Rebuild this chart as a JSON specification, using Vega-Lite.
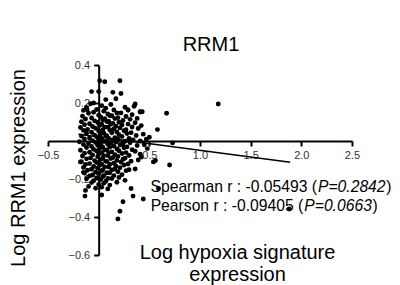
{
  "$schema": "https://vega.github.io/schema/vega-lite/v6.json",
  "width": 304,
  "height": 190,
  "autosize": {"type": "none"},
  "padding": {"left": 48, "top": 65, "right": 48, "bottom": 30},
  "background": "white",
  "config": {"view": {"stroke": null}, "font": "Liberation Sans"},
  "title": {"text": "RRM1", "fontSize": 20, "font": "Liberation Sans", "fontWeight": "normal", "color": "black", "anchor": "middle", "dx": 11, "dy": 24, "offset": 12, "baseline": "alphabetic"},
  "datasets": {
    "pts": [
      {"x":-0.08,"y":0.196},{"x":0.03,"y":0.186},{"x":0.12,"y":0.192},{"x":0.35,"y":0.183},
      {"x":-0.12,"y":0.176},{"x":-0.02,"y":0.166},{"x":0.07,"y":0.172},{"x":0.15,"y":0.163},{"x":0.26,"y":0.178},
      {"x":-0.15,"y":0.161},{"x":-0.05,"y":0.151},{"x":0.05,"y":0.157},{"x":0.18,"y":0.148},{"x":0.29,"y":0.163},{"x":0.41,"y":0.153},
      {"x":-0.1,"y":0.146},{"x":0.0,"y":0.136},{"x":0.09,"y":0.142},{"x":0.13,"y":0.133},{"x":0.22,"y":0.148},{"x":0.33,"y":0.138},
      {"x":-0.16,"y":0.131},{"x":-0.07,"y":0.121},{"x":0.02,"y":0.127},{"x":0.06,"y":0.118},{"x":0.11,"y":0.133},{"x":0.19,"y":0.123},{"x":0.27,"y":0.129},{"x":0.38,"y":0.119},
      {"x":-0.13,"y":0.116},{"x":-0.04,"y":0.106},{"x":0.04,"y":0.112},{"x":0.1,"y":0.103},{"x":0.16,"y":0.118},{"x":0.24,"y":0.108},{"x":0.31,"y":0.114},
      {"x":-0.17,"y":0.101},{"x":-0.09,"y":0.091},{"x":-0.01,"y":0.097},{"x":0.03,"y":0.088},{"x":0.08,"y":0.103},{"x":0.14,"y":0.093},{"x":0.2,"y":0.099},{"x":0.29,"y":0.089},{"x":0.36,"y":0.096},
      {"x":-0.14,"y":0.086},{"x":-0.06,"y":0.076},{"x":0.01,"y":0.082},{"x":0.06,"y":0.073},{"x":0.12,"y":0.088},{"x":0.17,"y":0.078},{"x":0.23,"y":0.084},{"x":0.33,"y":0.074},{"x":0.42,"y":0.081},
      {"x":-0.18,"y":0.071},{"x":-0.11,"y":0.061},{"x":-0.03,"y":0.067},{"x":0.04,"y":0.058},{"x":0.09,"y":0.073},{"x":0.15,"y":0.063},{"x":0.21,"y":0.069},{"x":0.27,"y":0.059},{"x":0.39,"y":0.066},
      {"x":-0.15,"y":0.056},{"x":-0.07,"y":0.046},{"x":0.0,"y":0.052},{"x":0.05,"y":0.043},{"x":0.11,"y":0.058},{"x":0.18,"y":0.048},{"x":0.25,"y":0.054},{"x":0.32,"y":0.044},
      {"x":-0.12,"y":0.041},{"x":-0.04,"y":0.031},{"x":0.02,"y":0.037},{"x":0.07,"y":0.028},{"x":0.13,"y":0.043},{"x":0.2,"y":0.033},{"x":0.28,"y":0.039},{"x":0.37,"y":0.029},{"x":0.44,"y":0.036},
      {"x":-0.17,"y":0.026},{"x":-0.09,"y":0.016},{"x":-0.02,"y":0.022},{"x":0.03,"y":0.013},{"x":0.08,"y":0.028},{"x":0.16,"y":0.018},{"x":0.23,"y":0.024},{"x":0.3,"y":0.014},
      {"x":-0.14,"y":0.011},{"x":-0.06,"y":0.001},{"x":0.0,"y":0.007},{"x":0.05,"y":-0.002},{"x":0.1,"y":0.013},{"x":0.14,"y":0.003},{"x":0.19,"y":0.009},{"x":0.26,"y":-0.001},{"x":0.34,"y":0.006},{"x":0.41,"y":0.0},
      {"x":-0.19,"y":-0.004},{"x":-0.1,"y":-0.014},{"x":-0.03,"y":-0.008},{"x":0.02,"y":-0.017},{"x":0.07,"y":-0.002},{"x":0.12,"y":-0.012},{"x":0.17,"y":-0.006},{"x":0.24,"y":-0.016},{"x":0.31,"y":-0.009},
      {"x":-0.15,"y":-0.019},{"x":-0.07,"y":-0.029},{"x":-0.01,"y":-0.023},{"x":0.04,"y":-0.032},{"x":0.09,"y":-0.017},{"x":0.15,"y":-0.027},{"x":0.21,"y":-0.021},{"x":0.28,"y":-0.031},{"x":0.38,"y":-0.024},
      {"x":-0.12,"y":-0.034},{"x":-0.05,"y":-0.044},{"x":0.01,"y":-0.038},{"x":0.06,"y":-0.047},{"x":0.11,"y":-0.032},{"x":0.18,"y":-0.042},{"x":0.25,"y":-0.036},{"x":0.33,"y":-0.046},
      {"x":-0.18,"y":-0.049},{"x":-0.09,"y":-0.059},{"x":-0.02,"y":-0.053},{"x":0.03,"y":-0.062},{"x":0.08,"y":-0.047},{"x":0.13,"y":-0.057},{"x":0.2,"y":-0.051},{"x":0.27,"y":-0.061},{"x":0.36,"y":-0.054},
      {"x":-0.14,"y":-0.064},{"x":-0.06,"y":-0.074},{"x":0.0,"y":-0.068},{"x":0.05,"y":-0.077},{"x":0.1,"y":-0.062},{"x":0.16,"y":-0.072},{"x":0.23,"y":-0.066},{"x":0.3,"y":-0.076},
      {"x":-0.16,"y":-0.079},{"x":-0.08,"y":-0.089},{"x":-0.01,"y":-0.083},{"x":0.04,"y":-0.092},{"x":0.09,"y":-0.077},{"x":0.14,"y":-0.087},{"x":0.19,"y":-0.081},{"x":0.26,"y":-0.091},
      {"x":-0.12,"y":-0.094},{"x":-0.04,"y":-0.104},{"x":0.02,"y":-0.098},{"x":0.07,"y":-0.107},{"x":0.12,"y":-0.092},{"x":0.18,"y":-0.102},{"x":0.24,"y":-0.096},{"x":0.32,"y":-0.106},
      {"x":-0.17,"y":-0.109},{"x":-0.09,"y":-0.119},{"x":-0.02,"y":-0.113},{"x":0.03,"y":-0.122},{"x":0.08,"y":-0.107},{"x":0.15,"y":-0.117},{"x":0.22,"y":-0.111},{"x":0.29,"y":-0.121},
      {"x":-0.13,"y":-0.124},{"x":-0.05,"y":-0.134},{"x":0.01,"y":-0.128},{"x":0.06,"y":-0.137},{"x":0.11,"y":-0.122},{"x":0.17,"y":-0.132},{"x":0.25,"y":-0.126},
      {"x":-0.15,"y":-0.139},{"x":-0.07,"y":-0.149},{"x":-0.01,"y":-0.143},{"x":0.04,"y":-0.152},{"x":0.1,"y":-0.137},{"x":0.16,"y":-0.147},{"x":0.21,"y":-0.141},{"x":0.3,"y":-0.151},
      {"x":-0.11,"y":-0.154},{"x":-0.03,"y":-0.164},{"x":0.03,"y":-0.158},{"x":0.08,"y":-0.167},{"x":0.13,"y":-0.152},{"x":0.19,"y":-0.162},{"x":0.27,"y":-0.156},
      {"x":-0.14,"y":-0.169},{"x":-0.06,"y":-0.179},{"x":0.0,"y":-0.173},{"x":0.05,"y":-0.182},{"x":0.11,"y":-0.167},{"x":0.23,"y":-0.177},
      {"x":-0.09,"y":-0.184},{"x":-0.02,"y":-0.194},{"x":0.04,"y":-0.188},{"x":0.09,"y":-0.197},{"x":0.15,"y":-0.182},{"x":0.2,"y":-0.192},
      {"x":-0.12,"y":-0.199},{"x":-0.05,"y":-0.209},{"x":0.02,"y":-0.203},{"x":0.07,"y":-0.212},{"x":0.13,"y":-0.197},{"x":0.26,"y":-0.207},
      {"x":-0.07,"y":-0.219},{"x":0.0,"y":-0.229},{"x":0.05,"y":-0.223},{"x":0.11,"y":-0.232},{"x":0.18,"y":-0.217},
      {"x":-0.1,"y":-0.239},{"x":-0.03,"y":-0.249},{"x":0.03,"y":-0.243},{"x":0.09,"y":-0.252},
      {"x":0.36,"y":0.195},{"x":0.41,"y":0.154},{"x":0.67,"y":0.146},{"x":1.18,"y":0.195},{"x":0.58,"y":0.06},{"x":0.73,"y":-0.01},
      {"x":0.7,"y":-0.126},{"x":0.54,"y":-0.11},{"x":0.56,"y":-0.103},{"x":0.41,"y":-0.07},{"x":0.36,"y":-0.147},{"x":0.59,"y":-0.25},
      {"x":0.44,"y":-0.305},{"x":0.34,"y":-0.29},{"x":0.24,"y":-0.32},{"x":0.21,"y":-0.37},{"x":0.19,"y":-0.41},{"x":0.32,"y":-0.25},
      {"x":0.03,"y":-0.284},{"x":-0.13,"y":-0.26},{"x":-0.135,"y":-0.29},{"x":-0.15,"y":-0.165},{"x":-0.18,"y":-0.11},{"x":1.88,"y":-0.358},
      {"x":0.01,"y":0.317},{"x":0.06,"y":0.312},{"x":0.21,"y":0.317},{"x":-0.07,"y":0.26},{"x":0.0,"y":0.26},{"x":0.14,"y":0.256},
      {"x":0.22,"y":0.25},{"x":0.07,"y":0.218},{"x":0.17,"y":0.222},{"x":-0.05,"y":0.2},{"x":0.29,"y":0.163},{"x":0.43,"y":0.154},{"x":-0.115,"y":0.165},
      {"x":0.47,"y":0.01},{"x":0.45,"y":-0.02},{"x":0.5,"y":0.02},{"x":0.48,"y":-0.04},{"x":0.42,"y":-0.085},{"x":0.39,"y":-0.1}
    ],
    "fit": [{"x": -0.2, "y": 0.0355}, {"x": 1.89, "y": -0.112}],
    "ann": [
      {"x": 2.155, "y": -0.267, "t": "Spearman r : -0.05493 (", "s": "a"},
      {"x": 2.164, "y": -0.267, "t": "P=0.2842", "s": "i"},
      {"x": 2.838, "y": -0.267, "t": ")", "s": "c"},
      {"x": 2.019, "y": -0.368, "t": "Pearson r : -0.09405 (", "s": "a"},
      {"x": 2.029, "y": -0.368, "t": "P=0.0663", "s": "i"},
      {"x": 2.703, "y": -0.368, "t": ")", "s": "c"}
    ]
  },
  "layer": [
    {
      "data": {"name": "pts"},
      "mark": {"type": "circle", "size": 24, "color": "black", "opacity": 1},
      "encoding": {
        "x": {"field": "x", "type": "quantitative",
          "scale": {"domain": [-0.5, 2.5], "nice": false, "zero": false},
          "axis": {"orient": "bottom", "offset": -114, "values": [-0.5, 0.5, 1, 1.5, 2, 2.5], "format": ".1f", "grid": false,
            "domainColor": "black", "domainWidth": 2, "tickColor": "black", "tickWidth": 2, "tickSize": 5,
            "labelFontSize": 11, "labelColor": "#333", "labelPadding": 3, "labelFlush": false, "labelOverlap": false,
            "title": ["Log hypoxia signature", "expression"], "titleFontSize": 20, "titleFontWeight": "normal", "titleColor": "black",
            "titleX": 189, "titleY": 117, "titleAlign": "center", "titleBaseline": "alphabetic", "titleLineHeight": 22}},
        "y": {"field": "y", "type": "quantitative",
          "scale": {"domain": [-0.6, 0.4], "nice": false, "zero": false},
          "axis": {"orient": "left", "offset": -50.67, "values": [-0.6, -0.4, -0.2, 0.2, 0.4], "format": ".1f", "grid": false,
            "domainColor": "black", "domainWidth": 2, "tickColor": "black", "tickWidth": 2, "tickSize": 5,
            "labelFontSize": 11, "labelColor": "#333", "labelPadding": 4, "labelOverlap": false,
            "title": "Log RRM1 expression", "titleFontSize": 20, "titleFontWeight": "normal", "titleColor": "black",
            "titleX": -74, "titleY": 102.5, "titleAngle": -90, "titleAlign": "center", "titleBaseline": "alphabetic"}}
      }
    },
    {
      "data": {"name": "fit"},
      "mark": {"type": "line", "color": "black", "strokeWidth": 1.5},
      "encoding": {"x": {"field": "x", "type": "quantitative"}, "y": {"field": "y", "type": "quantitative"}}
    },
    {
      "data": {"name": "ann"},
      "transform": [{"filter": "datum.s == 'a'"}],
      "mark": {"type": "text", "align": "right", "baseline": "alphabetic", "fontSize": 15.7, "color": "black"},
      "encoding": {"x": {"field": "x", "type": "quantitative"}, "y": {"field": "y", "type": "quantitative"}, "text": {"field": "t"}}
    },
    {
      "data": {"name": "ann"},
      "transform": [{"filter": "datum.s == 'i'"}],
      "mark": {"type": "text", "align": "left", "baseline": "alphabetic", "fontSize": 15.7, "fontStyle": "italic", "color": "black"},
      "encoding": {"x": {"field": "x", "type": "quantitative"}, "y": {"field": "y", "type": "quantitative"}, "text": {"field": "t"}}
    },
    {
      "data": {"name": "ann"},
      "transform": [{"filter": "datum.s == 'c'"}],
      "mark": {"type": "text", "align": "left", "baseline": "alphabetic", "fontSize": 15.7, "color": "black"},
      "encoding": {"x": {"field": "x", "type": "quantitative"}, "y": {"field": "y", "type": "quantitative"}, "text": {"field": "t"}}
    }
  ]
}
